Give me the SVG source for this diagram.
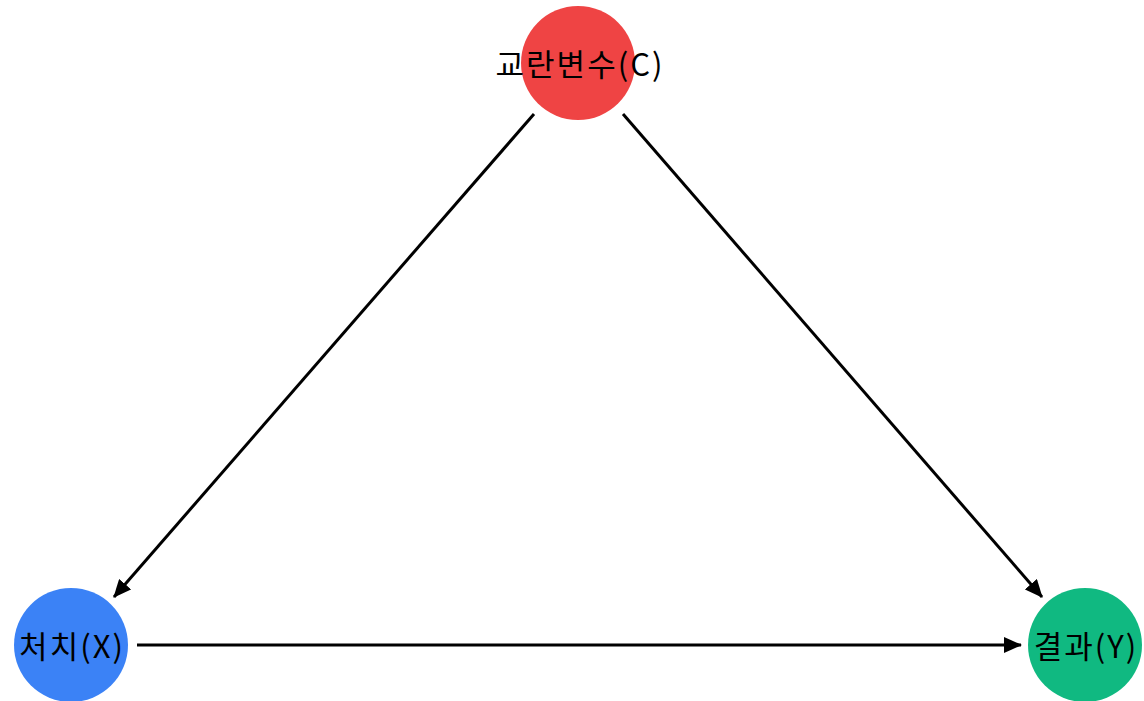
<svg xmlns="http://www.w3.org/2000/svg" width="1144" height="701" viewBox="0 0 1144 701">
<style>
.lbl{font-family:"Noto Sans CJK KR","Noto Sans",sans-serif;font-size:31px;letter-spacing:2px;fill:#000;text-anchor:middle;dominant-baseline:central}
.edge{stroke:#000;stroke-width:3;fill:none}
</style>
<defs>
<marker id="ah" markerWidth="18" markerHeight="16" refX="17" refY="8" orient="auto" markerUnits="userSpaceOnUse" viewBox="0 0 18 16">
<path d="M0,0 L18,8 L0,16 z" fill="#000"/>
</marker>
</defs>
<rect width="1144" height="701" fill="#fff"/>
<g id="connectors">
<line class="edge" x1="534" y1="114" x2="114" y2="597" marker-end="url(#ah)"/>
<line class="edge" x1="623" y1="114" x2="1042" y2="597" marker-end="url(#ah)"/>
<line class="edge" x1="137" y1="645" x2="1021" y2="645" marker-end="url(#ah)"/>
</g>
<g id="node-C">
<circle cx="578" cy="63" r="57" fill="#ef4444"/>
<text class="lbl" x="580" y="62">교란변수(C)</text>
</g>
<g id="node-X">
<circle cx="71" cy="645" r="57" fill="#3b82f6"/>
<text class="lbl" x="72" y="644">처치(X)</text>
</g>
<g id="node-Y">
<circle cx="1085" cy="645" r="57" fill="#10b981"/>
<text class="lbl" x="1086" y="644">결과(Y)</text>
</g>
</svg>
